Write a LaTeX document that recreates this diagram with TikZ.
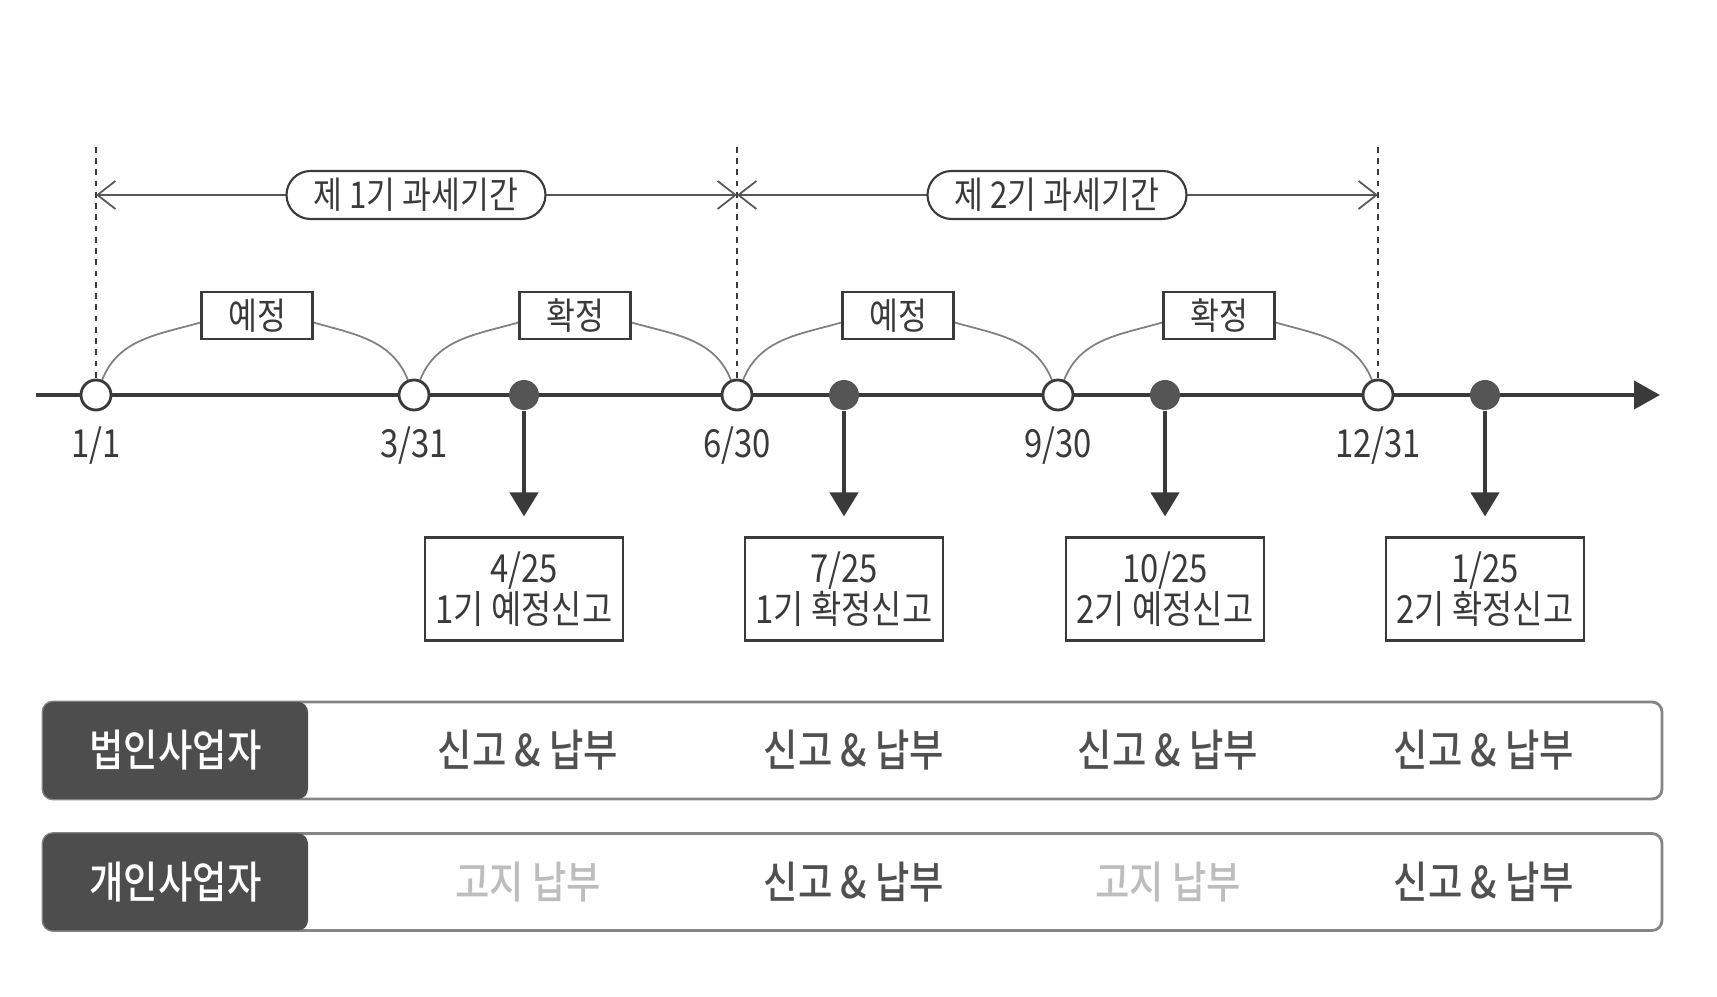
\documentclass[tikz,border=0pt]{standalone}
\usepackage{fontspec}
\setmainfont{Noto Sans CJK KR}[FakeStretch=0.85]
\newfontfamily\midkr{Noto Sans CJK KR Medium}[FakeStretch=0.85]
\usepackage{xcolor}
\usepackage{tikz}
\usetikzlibrary{arrows.meta}
\pgfdeclarelayer{background}
\pgfsetlayers{background,main}
\definecolor{ink}{HTML}{3A3A3A}
\definecolor{dot}{HTML}{555555}
\definecolor{arcline}{HTML}{808080}
\definecolor{rim}{HTML}{858585}
\definecolor{tagbg}{HTML}{4D4D4D}
\definecolor{pay}{HTML}{505050}
\definecolor{faint}{HTML}{BDBDBD}

\begin{document}
\begin{tikzpicture}[
  open/.style={circle,draw=ink,line width=0.8pt,fill=white,minimum size=0.3cm,inner sep=0pt},
  due/.style={circle,fill=dot,minimum size=0.3cm,inner sep=0pt},
  date/.style={text=ink,font=\fontsize{11}{13}\selectfont},
  term/.style={draw=ink,line width=0.6pt,fill=white,minimum width=1.11cm,minimum height=0.47cm,
               inner sep=0pt,text=ink,font=\fontsize{10.5}{12}\selectfont},
  period/.style={draw=ink,line width=0.6pt,fill=white,rounded corners=0.24cm,minimum width=2.59cm,
                 minimum height=0.48cm,inner sep=0pt,text=ink,font=\fontsize{10.5}{12}\selectfont},
  filing/.style={draw=ink,line width=0.6pt,minimum width=1.98cm,minimum height=1.03cm,align=center,
                 inner sep=0pt,text=ink,font=\fontsize{11}{11.6}\selectfont},
  row/.style={draw=rim,line width=0.8pt,rounded corners=0.1cm,minimum width=16.19cm,minimum height=0.97cm},
  tag/.style={fill=tagbg,rounded corners=0.1cm,minimum width=2.65cm,minimum height=0.97cm,
              text=white,font=\fontsize{12.5}{14}\midkr},
  pay/.style={text=pay,font=\fontsize{12.5}{14}\midkr},
  notice/.style={text=faint,font=\fontsize{12.5}{14}\midkr},
  axis/.style={-{Triangle[length=0.26cm,width=0.28cm]},line width=1.2pt,ink},
  guide/.style={ink,line width=0.5pt,dash pattern=on 1.6pt off 1.6pt},
  span/.style={{Straight Barb[length=1.8mm,width=2.8mm]}-{Straight Barb[length=1.8mm,width=2.8mm]},
               ink!85,line width=0.5pt},
  hop/.style={arcline,line width=0.5pt},
  down/.style={-{Triangle[length=0.24cm,width=0.28cm]},line width=1.2pt,ink,shorten >=0.2cm}]
  \useasboundingbox (0,0) rectangle (17.17,-9.97);

  % timeline
  \coordinate (start) at (0.36,-3.95);
  \coordinate (end) at (16.60,-3.95);
  \node[open](o1) at (0.96,-3.95) {};
  \node[open](o2) at (4.14,-3.95) {};
  \node[open](o3) at (7.37,-3.95) {};
  \node[open](o4) at (10.58,-3.95){};
  \node[open](o5) at (13.78,-3.95){};
  \node[due](f1) at (5.24,-3.95) {};
  \node[due](f2) at (8.44,-3.95) {};
  \node[due](f3) at (11.65,-3.95){};
  \node[due](f4) at (14.85,-3.95){};
  \node[date](d1) at (0.96,-4.46) {1/1};
  \node[date](d2) at (4.14,-4.46) {3/31};
  \node[date](d3) at (7.37,-4.46) {6/30};
  \node[date](d4) at (10.58,-4.46){9/30};
  \node[date](d5) at (13.78,-4.46){12/31};

  % taxable periods
  \coordinate (top1) at (0.96,-1.47);
  \coordinate (top3) at (7.37,-1.47);
  \coordinate (top5) at (13.78,-1.47);
  \node[period](p1) at (4.16,-1.95) {제 1기 과세기간};
  \node[period](p2) at (10.57,-1.95){제 2기 과세기간};
  \node[term](a1) at (2.57,-3.155) {예정};
  \node[term](a2) at (5.75,-3.155) {확정};
  \node[term](a3) at (8.98,-3.155) {예정};
  \node[term](a4) at (12.19,-3.155){확정};

  % filing dates
  \node[filing](r1) at (5.24,-5.89) {4/25\\1기 예정신고};
  \node[filing](r2) at (8.44,-5.89) {7/25\\1기 확정신고};
  \node[filing](r3) at (11.65,-5.89){10/25\\2기 예정신고};
  \node[filing](r4) at (14.85,-5.89){1/25\\2기 확정신고};

  \begin{pgfonlayer}{background}
    \draw[axis](start)--(end);
    \draw[guide](top1)--(o1); \draw[guide](top3)--(o3); \draw[guide](top5)--(o5);
    \draw[span](top1 |- p1)--(top3 |- p1);
    \draw[span](top3 |- p2)--(top5 |- p2);
    \draw[hop](o1) to[out=68,in=196] ([yshift=-0.07cm]a1.west);
    \draw[hop]([yshift=-0.07cm]a1.east) to[out=-16,in=112] (o2);
    \draw[hop](o2) to[out=68,in=196] ([yshift=-0.07cm]a2.west);
    \draw[hop]([yshift=-0.07cm]a2.east) to[out=-16,in=112] (o3);
    \draw[hop](o3) to[out=68,in=196] ([yshift=-0.07cm]a3.west);
    \draw[hop]([yshift=-0.07cm]a3.east) to[out=-16,in=112] (o4);
    \draw[hop](o4) to[out=68,in=196] ([yshift=-0.07cm]a4.west);
    \draw[hop]([yshift=-0.07cm]a4.east) to[out=-16,in=112] (o5);
    \draw[down](f1)--(r1); \draw[down](f2)--(r2);
    \draw[down](f3)--(r3); \draw[down](f4)--(r4);
  \end{pgfonlayer}

  % who files and pays
  \node[row](R1) at (8.525,-7.505){};
  \node[row](R2) at (8.525,-8.82) {};
  \node[tag](L1) at (1.755,-7.505){법인사업자};
  \node[tag](L2) at (1.755,-8.82) {개인사업자};
  \node[pay](n11) at (5.28,-7.505) {신고 \& 납부};
  \node[pay](n12) at (8.54,-7.505) {신고 \& 납부};
  \node[pay](n13) at (11.68,-7.505){신고 \& 납부};
  \node[pay](n14) at (14.84,-7.505){신고 \& 납부};
  \node[notice](n21) at (5.28,-8.82){고지 납부};
  \node[pay](n22) at (8.54,-8.82) {신고 \& 납부};
  \node[notice](n23) at (11.68,-8.82){고지 납부};
  \node[pay](n24) at (14.84,-8.82) {신고 \& 납부};
\end{tikzpicture}
\end{document}
